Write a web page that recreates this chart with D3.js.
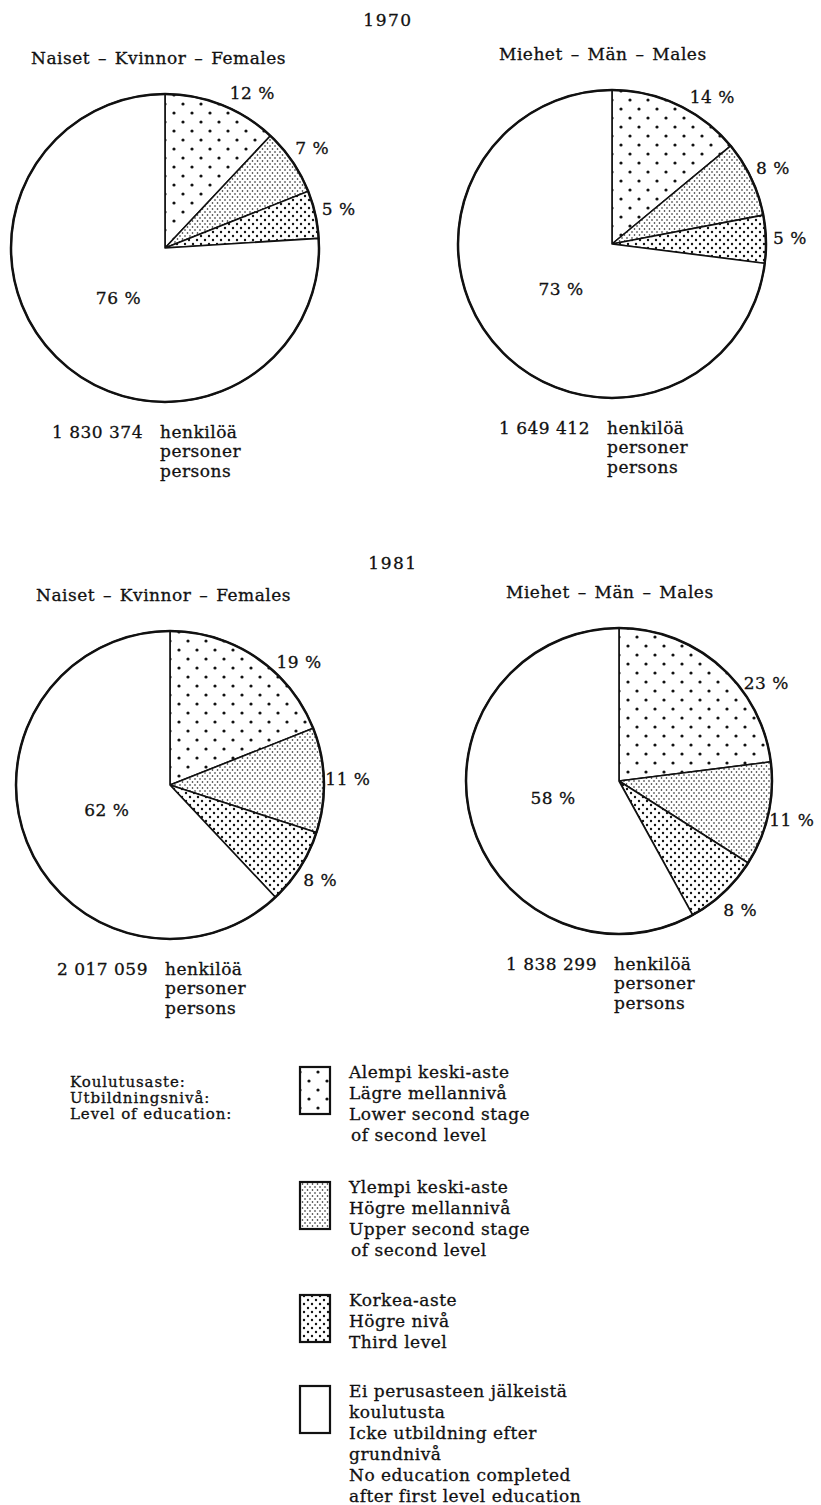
<!DOCTYPE html>
<meta charset="utf-8">
<style>
body { margin: 0; background: #fff; }
svg text { font-family: "DejaVu Serif", "Liberation Serif", serif; fill: #111; font-size: 17px;
  letter-spacing: 0.5px; stroke: #111; stroke-width: 0.3px; }
.year { letter-spacing: 1.5px; }
.title { word-spacing: 2px; }
.head { font-size: 15px; letter-spacing: 0.9px; }
.slice { stroke: #111; stroke-width: 1.6px; stroke-linejoin: round; }
.rim { fill: none; stroke: #111; stroke-width: 2.5px; }
.key { stroke: #111; stroke-width: 2.2px; }
</style>
<svg width="821" height="1505"></svg>
<script src="https://d3js.org/d3.v7.min.js"></script>
<script>

// --- data
var years = ["1970", "1981"];
var groups = ["Naiset – Kvinnor – Females", "Miehet – Män – Males"];
var levels = ["lower", "upper", "third", "none"];

var females1970 = [12, 7, 5, 76];
var males1970   = [14, 8, 5, 73];
var females1981 = [19, 11, 8, 62];
var males1981   = [23, 11, 8, 58];

var totals = ["1 830 374", "1 649 412", "2 017 059", "1 838 299"];
var personWords = ["henkilöä", "personer", "persons"];

var legendHead = ["Koulutusaste:", "Utbildningsnivå:", "Level of education:"];
var legendLines = [
  ["Alempi keski-aste", "Lägre mellannivå", "Lower second stage", "of second level"],
  ["Ylempi keski-aste", "Högre mellannivå", "Upper second stage", "of second level"],
  ["Korkea-aste", "Högre nivå", "Third level"],
  ["Ei perusasteen jälkeistä", "koulutusta", "Icke utbildning efter", "grundnivå", "No education completed", "after first level education"]
];

// --- layout
var svg = d3.select("svg");
svg.append("rect").attr("width", 821).attr("height", 1505).attr("fill", "#fff");

var charts = [
  {values: females1970, cx: 165, cy: 248, r: 154, year: 0, group: 0},
  {values: males1970,   cx: 612, cy: 244, r: 154, year: 0, group: 1},
  {values: females1981, cx: 170, cy: 785, r: 154, year: 1, group: 0},
  {values: males1981,   cx: 619, cy: 781, r: 153, year: 1, group: 1}
];
var yearY = [20, 563];

// dot patterns
var defs = svg.append("defs");
function dots(id, w, h, rad) {
  var p = defs.append("pattern").attr("id", id)
      .attr("patternUnits", "userSpaceOnUse")
      .attr("width", w).attr("height", h);
  p.append("rect").attr("width", w).attr("height", h).attr("fill", "#fff");
  [[0, 0], [w, 0], [0, h], [w, h], [w / 2, h / 2]].forEach(function(c) {
    p.append("circle").attr("cx", c[0]).attr("cy", c[1]).attr("r", rad).attr("fill", "#111");
  });
}
dots("p-lower", 18, 18, 1.6);
dots("p-upper", 5, 6, 0.8);
dots("p-third", 8, 8, 1.2);

var fill = d3.scaleOrdinal()
    .domain(levels)
    .range(["url(#p-lower)", "url(#p-upper)", "url(#p-third)", "#fff"]);

var pie = d3.pie().sort(null).value(function(d) { return d; });

// year headings
svg.selectAll(".year")
  .data(years)
  .enter().append("text")
    .attr("class", "year")
    .attr("x", function(d, i) { return i ? 393 : 388; })
    .attr("y", function(d, i) { return yearY[i]; })
    .attr("dy", "0.35em")
    .attr("text-anchor", "middle")
    .text(function(d) { return d; });

charts.forEach(function(c, ci) {
  var g = svg.append("g").attr("transform", "translate(" + c.cx + "," + c.cy + ")");
  var arcs = pie(c.values);
  var arc = d3.arc().innerRadius(0).outerRadius(c.r);

  // group title
  g.append("text")
      .attr("class", "title")
      .attr("x", c.group ? -113 : -134)
      .attr("y", -c.r - 36)
      .attr("dy", "0.35em")
      .text(groups[c.group]);

  g.selectAll(".slice")
    .data(arcs)
    .enter().append("path")
      .attr("class", "slice")
      .attr("fill", function(d, i) { return fill(levels[i]); })
      .attr("d", arc);

  g.append("circle").attr("class", "rim").attr("r", c.r);

  // outside labels for the three educated groups
  g.selectAll(".pct")
    .data(arcs.slice(0, 3))
    .enter().append("text")
      .attr("class", "pct")
      .attr("text-anchor", "middle")
      .attr("dy", "0.35em")
      .attr("transform", function(d, i) {
        var f = i === 0 ? 0.68 : 0.5;
        var a = d.startAngle + f * (d.endAngle - d.startAngle);
        var R = c.r + 24;
        return "translate(" + (R * Math.sin(a)) + "," + (-R * Math.cos(a)) + ")";
      })
      .text(function(d) { return d.data + " %"; });

  // the big white slice label inside
  var inner = d3.arc().innerRadius(68).outerRadius(68);
  g.append("text")
      .attr("text-anchor", "middle")
      .attr("dy", "0.35em")
      .attr("transform", "translate(" + inner.centroid(arcs[3]) + ")")
      .text(arcs[3].data + " %");

  // totals
  var ty = c.r + 30;
  g.append("text")
      .attr("x", -22).attr("y", ty)
      .attr("dy", "0.35em")
      .attr("text-anchor", "end")
      .text(totals[ci]);
  g.selectAll(".word")
    .data(personWords)
    .enter().append("text")
      .attr("x", -5)
      .attr("y", function(d, i) { return ty + i * 19.5; })
      .attr("dy", "0.35em")
      .text(function(d) { return d; });
});

// --- legend
var lg = svg.append("g");
lg.selectAll(".head")
  .data(legendHead)
  .enter().append("text")
    .attr("class", "head")
    .attr("x", 70)
    .attr("y", function(d, i) { return 1082 + i * 16; })
    .attr("dy", "0.35em")
    .text(function(d) { return d; });

var itemTop = [1072, 1187, 1300, 1391];
var item = lg.selectAll(".item")
  .data(legendLines)
  .enter().append("g")
    .attr("transform", function(d, i) { return "translate(300," + itemTop[i] + ")"; });

item.append("rect")
    .attr("class", "key")
    .attr("x", 0).attr("y", -5)
    .attr("width", 30).attr("height", 47)
    .attr("fill", function(d, i) { return fill(levels[i]); });

item.selectAll("text")
  .data(function(d) { return d; })
  .enter().append("text")
    .attr("x", function(d, i, n) { return (d === "of second level" && n.length === 4 && i === 3) ? 51 : 49; })
    .attr("y", function(d, i) { return i * 21; })
    .attr("dy", "0.35em")
    .text(function(d) { return d; });

</script>
